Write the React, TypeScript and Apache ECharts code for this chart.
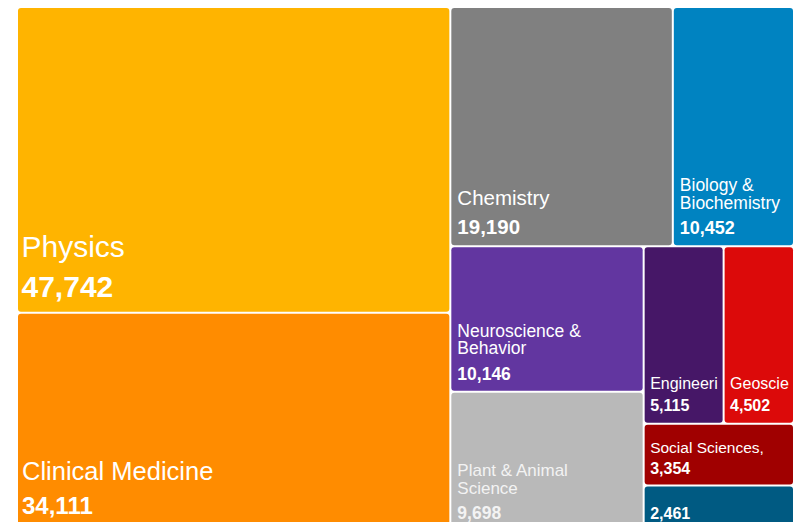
import React, { useEffect, useRef } from 'react';
import * as echarts from 'echarts';

// Data
const categories = [
  'Physics',
  'Clinical Medicine',
  'Chemistry',
  'Biology & Biochemistry',
  'Neuroscience & Behavior',
  'Plant & Animal Science',
  'Engineering',
  'Geosciences',
  'Social Sciences,',
  'Environment/Ecology',
];
const values = [47742, 34111, 19190, 10452, 10146, 9698, 5115, 4502, 3354, 2461];

// Styling (kept apart from data)
const colors = ['#FFB400', '#FF8C00', '#808080', '#0083C1', '#6236A0', '#B9B9B9', '#461767', '#DC0A0A', '#A00000', '#005A82'];
const nameFs = [30, 25.5, 20.5, 17.5, 17.5, 17, 16, 16, 15.5, 16];
const valueFs = [30, 24, 20.5, 18, 17.5, 17.5, 16, 16, 16, 16];
const nameLh = [34, 29, 23, 18, 17.5, 18, 18, 18, 17, 18];
const nameGap = [40, 34, 29, 26, 26, 24.5, 22, 22, 22, 0];
const baseOff = [15, 16, 11.5, 10.5, 10.5, 11, 11.5, 11.5, 10, 11];
const breakAfterWord = [0, 0, 0, 2, 2, 3, 0, 0, 0, 0];
const nameVisible = [true, true, true, true, true, true, true, true, true, false];
const truncateName = [false, false, false, false, false, false, true, true, false, false];
const textColors = ['#fff', '#fff', '#fff', '#fff', '#fff', '#f3f3f3', '#fff', '#fff', '#fff', '#fff'];
const padLeft = [3.5, 4, 6, 6, 6, 6, 5.5, 5.5, 5.5, 5.5];

const FONT = '"Liberation Sans", Arial, Helvetica, sans-serif';
const fmt = (v: number) => v.toLocaleString('en-US');
const wrapName = (name: string, n: number) => {
  if (!n) return name;
  const words = name.split(' ');
  return words.slice(0, n).join(' ') + '\n' + words.slice(n).join(' ');
};

export default function App() {
  const ref = useRef<HTMLDivElement>(null);
  useEffect(() => {
    if (!ref.current) return;
    document.body.style.margin = '0';
    document.documentElement.style.overflow = 'hidden';
    const chart = echarts.init(ref.current, undefined, { renderer: 'svg' });

    const nameData = categories.map((name, i) => {
      const pb = baseOff[i] + nameGap[i] - nameLh[i] / 2 + 0.35 * nameFs[i];
      return {
        name,
        value: values[i],
        itemStyle: { color: colors[i], borderRadius: 3, borderWidth: 0 },
        label: {
          show: nameVisible[i],
          position: 'insideBottomLeft',
          distance: 0,
          padding: [0, 0, pb, padLeft[i]],
          overflow: truncateName[i] ? 'truncate' : 'none',
          ellipsis: '',
          color: textColors[i],
          fontFamily: FONT,
          fontSize: nameFs[i],
          fontWeight: 'normal',
          lineHeight: nameLh[i],
          verticalAlign: 'bottom',
          formatter: (p: any) => (nameVisible[i] ? wrapName(p.name, breakAfterWord[i]) : ''),
        },
      };
    });

    const valueData = categories.map((name, i) => {
      const pb = baseOff[i] - 0.15 * valueFs[i];
      return {
        name,
        value: values[i],
        itemStyle: { color: 'rgba(0,0,0,0)', borderWidth: 0 },
        label: {
          show: true,
          position: 'insideBottomLeft',
          distance: 0,
          padding: [0, 0, pb, padLeft[i]],
          overflow: 'truncate',
          ellipsis: '',
          color: textColors[i],
          fontFamily: FONT,
          fontSize: valueFs[i],
          fontWeight: 'bold',
          lineHeight: valueFs[i],
          verticalAlign: 'bottom',
          formatter: (p: any) => fmt(p.value),
        },
      };
    });

    const common = {
      type: 'treemap',
      left: 18,
      top: 8,
      width: 775,
      height: 522,
      roam: false,
      nodeClick: false,
      squareRatio: 1.75,
      breadcrumb: { show: false },
      emphasis: { disabled: true },
      silent: true,
    };

    chart.setOption({
      animation: false,
      tooltip: { show: false },
      series: [
        {
          ...common,
          levels: [{ itemStyle: { gapWidth: 2, borderWidth: 0, borderColor: '#fff' } }],
          data: nameData,
        },
        {
          ...common,
          levels: [{ itemStyle: { gapWidth: 2, borderWidth: 0, borderColor: 'rgba(0,0,0,0)', color: 'rgba(0,0,0,0)' } }],
          data: valueData,
        },
      ],
    });
    return () => chart.dispose();
  }, []);
  return (
    <div style={{ width: 794, height: 522, overflow: 'hidden', background: '#fff', position: 'relative' }}>
      <div ref={ref} style={{ width: 794, height: 530 }} />
    </div>
  );
}
